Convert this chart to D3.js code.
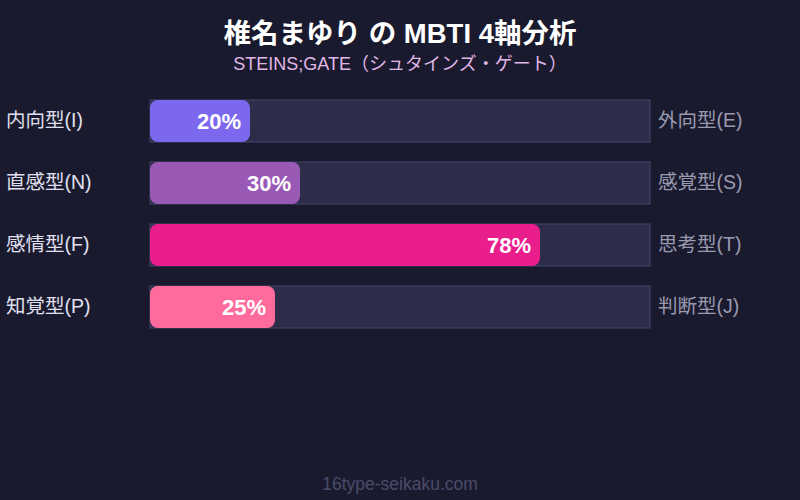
<!DOCTYPE html>
<html>
<head>
<meta charset="utf-8">
<script src="https://cdn.jsdelivr.net/npm/d3@7"></script>
<style>
  body { margin: 0; background: #1a1a2e; }
  text { font-family: "Liberation Sans", "Noto Sans CJK JP", sans-serif; }
</style>
</head>
<body>
<div id="chart"></div>
<script>
// data
var leftLabels = ["内向型(I)", "直感型(N)", "感情型(F)", "知覚型(P)"];
var rightLabels = ["外向型(E)", "感覚型(S)", "思考型(T)", "判断型(J)"];
var values = [20, 30, 78, 25];
var barColors = ["#7b68ee", "#9b59b6", "#e91e8c", "#ff6b9d"];

var width = 800, height = 500;

var svg = d3.select("#chart")
  .append("svg")
  .attr("width", width)
  .attr("height", height);

svg.append("rect")
  .attr("width", width)
  .attr("height", height)
  .attr("fill", "#1a1a2e");

// title
svg.append("text")
  .attr("x", width / 2)
  .attr("y", 43)
  .attr("text-anchor", "middle")
  .attr("fill", "#ffffff")
  .attr("font-size", 27.5)
  .attr("font-weight", "bold")
  .text("椎名まゆり の MBTI 4軸分析");

svg.append("text")
  .attr("x", width / 2)
  .attr("y", 70)
  .attr("text-anchor", "middle")
  .attr("fill", "#e0b8e8")
  .attr("font-size", 18)
  .text("STEINS;GATE（シュタインズ・ゲート）");

var x = d3.scaleLinear().domain([0, 100]).range([150, 650]);
var y = d3.scaleBand()
  .domain(d3.range(values.length))
  .range([100, 328])
  .paddingInner(20 / 62)
  .paddingOuter(0);

var rows = svg.selectAll("g.row")
  .data(values)
  .enter()
  .append("g")
  .attr("class", "row");

// track
rows.append("rect")
  .attr("x", x(0))
  .attr("y", function(d, i) { return y(i); })
  .attr("width", x(100) - x(0))
  .attr("height", y.bandwidth())
  .attr("fill", "#2d2d4a")
  .attr("stroke", "#45456a")
  .attr("stroke-width", 1);

// bar
rows.append("rect")
  .attr("x", x(0))
  .attr("y", function(d, i) { return y(i); })
  .attr("width", function(d) { return x(d) - x(0); })
  .attr("height", y.bandwidth())
  .attr("rx", 8)
  .attr("fill", function(d, i) { return barColors[i]; });

// value labels
rows.append("text")
  .attr("x", function(d) { return x(d) - 9; })
  .attr("y", function(d, i) { return y(i) + y.bandwidth() / 2; })
  .attr("dy", "0.35em")
  .attr("text-anchor", "end")
  .attr("fill", "#ffffff")
  .attr("font-size", 22)
  .attr("font-weight", "bold")
  .text(function(d) { return d + "%"; });

rows.append("text")
  .attr("x", 6)
  .attr("y", function(d, i) { return y(i) + y.bandwidth() / 2 - 1; })
  .attr("dy", "0.35em")
  .attr("fill", "#e0e0f0")
  .attr("font-size", 19.5)
  .text(function(d, i) { return leftLabels[i]; });

rows.append("text")
  .attr("x", 658)
  .attr("y", function(d, i) { return y(i) + y.bandwidth() / 2 - 1; })
  .attr("dy", "0.35em")
  .attr("fill", "#9a9ab0")
  .attr("font-size", 19.5)
  .text(function(d, i) { return rightLabels[i]; });

// footer
svg.append("text")
  .attr("x", width / 2)
  .attr("y", 490)
  .attr("text-anchor", "middle")
  .attr("fill", "#4a4a6a")
  .attr("font-size", 17.5)
  .text("16type-seikaku.com");
</script>
</body>
</html>
